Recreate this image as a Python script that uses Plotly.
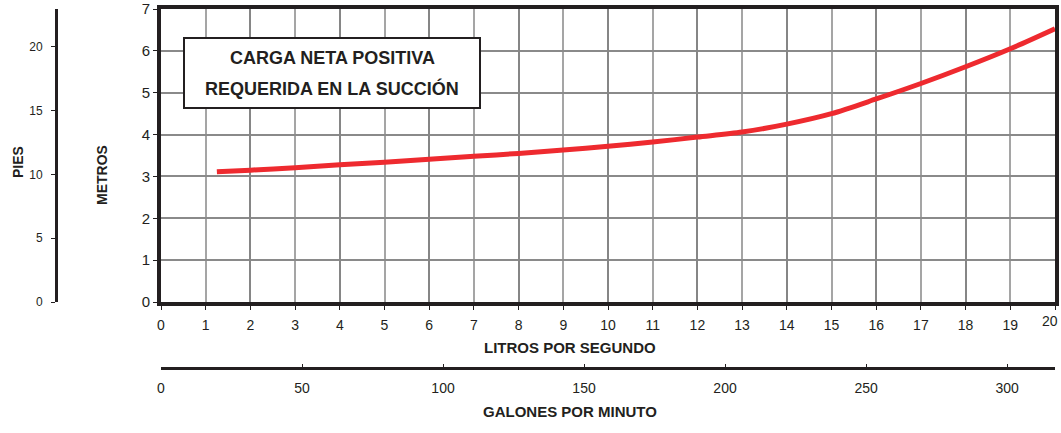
import plotly.graph_objects as go

# Data: NPSH required (metros) vs caudal (litros por segundo)
caudal_lps = [1.25, 2, 3, 4, 5, 6, 7, 8, 9, 10, 11, 12, 13, 14, 15, 16, 17, 18, 19, 20]
npsh_m = [3.11, 3.15, 3.21, 3.28, 3.34, 3.41, 3.48, 3.55, 3.63, 3.72, 3.82, 3.94, 4.06, 4.25, 4.50, 4.85, 5.22, 5.62, 6.05, 6.53]

x_ticks_lps = list(range(0, 21))
x_tick_labels = ["0", "1", "2", "3", "4", "5", "6", "7", "8", "9", "10", "11", "12", "13",
                 "14", "15", "16", "17", "18", "19", ""]
x_last_label = "20"
x_major_grid = list(range(0, 21, 2))
y_ticks_m = list(range(0, 8))
gpm_ticks = [0, 50, 100, 150, 200, 250, 300]
pies_ticks = [0, 5, 10, 15, 20]

LPS_TO_GPM = 15.850
M_TO_FT = 3.2808

W, H = 1061, 433
ML, MR, MT, MB = 2, 2, 1, 2
PW, PH = W - ML - MR, H - MT - MB

def px(xp):
    return (xp - ML) / PW

def py(yp):
    return (H - MB - yp) / PH

x_dom = [px(161), px(1055)]
y_dom = [py(302), py(9)]

TXT = "#231f20"
FONT = "Liberation Sans, Arial, sans-serif"

fig = go.Figure()
# invisible traces to bind the secondary axes
fig.add_trace(go.Scatter(x=[0, 20 * LPS_TO_GPM], y=[0, 0], xaxis="x2", yaxis="y",
                         mode="markers", marker=dict(opacity=0), showlegend=False, hoverinfo="skip"))
fig.add_trace(go.Scatter(x=[0, 0], y=[0, 7 * M_TO_FT], xaxis="x", yaxis="y2",
                         mode="markers", marker=dict(opacity=0), showlegend=False, hoverinfo="skip"))
fig.add_trace(go.Scatter(x=[0, 20], y=[0, 0], xaxis="x3", yaxis="y",
                         mode="markers", marker=dict(opacity=0), showlegend=False, hoverinfo="skip"))
fig.add_trace(go.Scatter(
    x=caudal_lps, y=npsh_m, mode="lines",
    line=dict(color="#ee2a2f", width=5, shape="spline", smoothing=0.8),
    hoverinfo="skip", showlegend=False))

fig.update_layout(
    width=W, height=H,
    margin=dict(l=ML, r=MR, t=MT, b=MB, autoexpand=False),
    paper_bgcolor="white", plot_bgcolor="white",
    font=dict(family=FONT, color=TXT, size=14),
    xaxis=dict(domain=x_dom, range=[0, 20], tickvals=x_ticks_lps, ticktext=x_tick_labels,
               ticks="outside", ticklen=4,
               tickcolor=TXT, tickfont=dict(size=14, color=TXT), ticklabelstandoff=3,
               ticklabeloverflow="allow", automargin=False,
               showgrid=True, gridcolor="#a5a5a5", gridwidth=1.6,
               showline=True, linecolor="#231f20", linewidth=4, mirror=True,
               zeroline=False, anchor="y", fixedrange=True),
    xaxis3=dict(overlaying="x", domain=x_dom, range=[0, 20], tickvals=x_major_grid,
                showticklabels=False, ticks="", automargin=False,
                showgrid=True, gridcolor="#868686", gridwidth=2.4,
                showline=False, zeroline=False, anchor="y", fixedrange=True),
    yaxis=dict(domain=y_dom, range=[0, 7], tickvals=y_ticks_m, ticks="outside", ticklen=4,
               tickcolor=TXT, tickfont=dict(size=15, color=TXT), ticklabeloverflow="allow",
               automargin=False,
               showgrid=True, gridcolor="#8a8a8a", gridwidth=2.2,
               showline=True, linecolor="#231f20", linewidth=4, mirror=True,
               zeroline=False, anchor="x", fixedrange=True),
    xaxis2=dict(overlaying="x", domain=x_dom, range=[0, 20 * LPS_TO_GPM], tickvals=gpm_ticks,
                anchor="free", position=py(368), side="bottom",
                ticks="inside", ticklen=3, tickcolor=TXT, tickfont=dict(size=14, color=TXT),
                ticklabelstandoff=6, ticklabeloverflow="allow", automargin=False,
                showgrid=False, zeroline=False, showline=True, linecolor="#231f20", linewidth=2.5,
                fixedrange=True),
    yaxis2=dict(overlaying="y", domain=y_dom, range=[0, 7 * M_TO_FT], tickvals=pies_ticks,
                anchor="free", position=px(56), side="left",
                ticks="outside", ticklen=4, tickcolor=TXT, tickfont=dict(size=12, color=TXT),
                ticklabelstandoff=6, ticklabeloverflow="allow", automargin=False,
                showgrid=False, zeroline=False, showline=True, linecolor="#231f20", linewidth=3,
                fixedrange=True),
)

# last x tick label, nudged left so it stays inside the page
fig.add_annotation(xref="x", yref="y", x=x_ticks_lps[-1], y=0, text=x_last_label,
                   xshift=-5, yshift=-19, showarrow=False, font=dict(size=14, color=TXT),
                   xanchor="center", yanchor="middle")

# title box
fig.add_shape(type="rect", xref="paper", yref="paper",
              x0=px(184), x1=px(480), y0=py(108), y1=py(38),
              line=dict(color="#231f20", width=2), fillcolor="white", layer="above")
fig.add_annotation(xref="paper", yref="paper", x=px(332), y=py(58), text="<b>CARGA NETA POSITIVA</b>",
                   showarrow=False, font=dict(size=18, color=TXT), xanchor="center", yanchor="middle")
fig.add_annotation(xref="paper", yref="paper", x=px(332), y=py(88), text="<b>REQUERIDA EN LA SUCCIÓN</b>",
                   showarrow=False, font=dict(size=18, color=TXT), xanchor="center", yanchor="middle")

# axis titles
fig.add_annotation(xref="paper", yref="paper", x=px(570), y=py(347), text="<b>LITROS POR SEGUNDO</b>",
                   showarrow=False, font=dict(size=15, color=TXT), xanchor="center", yanchor="middle")
fig.add_annotation(xref="paper", yref="paper", x=px(570), y=py(411), text="<b>GALONES POR MINUTO</b>",
                   showarrow=False, font=dict(size=15, color=TXT), xanchor="center", yanchor="middle")
fig.add_annotation(xref="paper", yref="paper", x=px(102), y=py(175), text="<b>METROS</b>", textangle=-90,
                   showarrow=False, font=dict(size=14, color=TXT), xanchor="center", yanchor="middle")
fig.add_annotation(xref="paper", yref="paper", x=px(18), y=py(162), text="<b>PIES</b>", textangle=-90,
                   showarrow=False, font=dict(size=14, color=TXT), xanchor="center", yanchor="middle")

fig.write_html("out.html", config={"displayModeBar": False},
               post_script="document.body.style.margin='0';document.body.style.overflow='hidden';")
